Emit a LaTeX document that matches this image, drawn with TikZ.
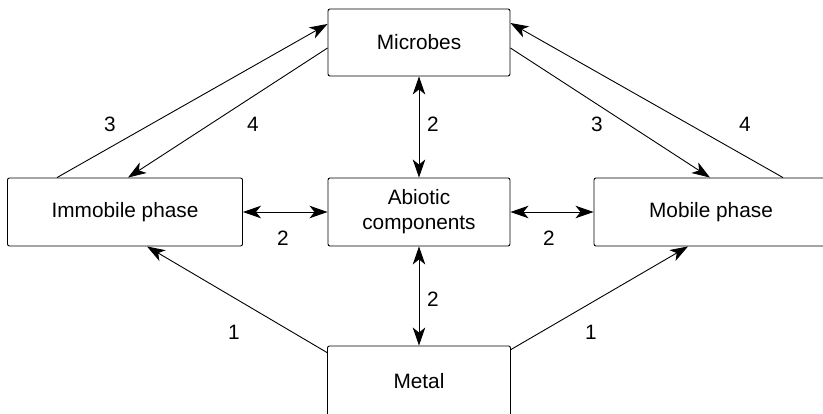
\documentclass[tikz,border=0pt]{standalone}
\usepackage{fontspec}
\setmainfont{Liberation Sans}
\usetikzlibrary{arrows.meta,calc}
\begin{document}
\begin{tikzpicture}[x=1pt,y=-1pt,
  box/.style={draw,line width=0.9pt,rounded corners=2pt,inner sep=0pt,align=center,font=\fontsize{20.8}{25}\selectfont},
  lbl/.style={font=\fontsize{20.8}{25}\selectfont,inner sep=0pt},
  conn/.style={line width=0.9pt,-{Stealth[length=18pt,width=12.5pt,inset=5pt]}},
  dconn/.style={line width=0.9pt,{Stealth[length=18pt,width=12.5pt,inset=5pt]}-{Stealth[length=18pt,width=12.5pt,inset=5pt]}}]
\useasboundingbox (0,0) rectangle (823,413);
\clip (0,0) rectangle (823,413);
\node[box,minimum width=182pt,minimum height=67pt] (mic) at (419,42.5) {Microbes};
\node[box,minimum width=235pt,minimum height=68pt] (imm) at (125,212) {Immobile phase};
\node[box,minimum width=182pt,minimum height=68pt] (abi) at (419,212) {Abiotic\\components};
\node[box,minimum width=234pt,minimum height=68pt] (mob) at (711,212) {Mobile phase};
\node[box,minimum width=183pt,minimum height=70pt] (met) at (419,381) {Metal};
% connectors
\draw[conn] ([xshift=-68pt]imm.north) -- ([yshift=18.5pt]mic.west);
\draw[conn] ([yshift=-5.5pt]mic.west) -- ([xshift=3pt]imm.north);
\draw[conn] ([yshift=-5.5pt]mic.east) -- ([xshift=-1pt]mob.north);
\draw[conn] ([xshift=72pt]mob.north) -- ([yshift=19.5pt]mic.east);
\draw[dconn] (mic.south) -- (abi.north);
\draw[dconn] (imm.east) -- (abi.west);
\draw[dconn] (abi.east) -- (mob.west);
\draw[dconn] (abi.south) -- (met.north);
\draw[conn] ([yshift=-7pt]met.north west) -- ([xshift=22pt]imm.south);
\draw[conn] ([yshift=-4pt]met.north east) -- ([xshift=-23pt]mob.south);
% labels
\node[lbl] (l3a) at (110,124) {3};
\node[lbl] (l4a) at (253,124) {4};
\node[lbl] (l2a) at (433,124) {2};
\node[lbl] (l3b) at (597,124) {3};
\node[lbl] (l4b) at (745,124) {4};
\node[lbl] (l2b) at (283,238) {2};
\node[lbl] (l2c) at (549,238) {2};
\node[lbl] (l2d) at (433,299) {2};
\node[lbl] (l1a) at (234,332) {1};
\node[lbl] (l1b) at (591,332) {1};
\end{tikzpicture}
\end{document}
